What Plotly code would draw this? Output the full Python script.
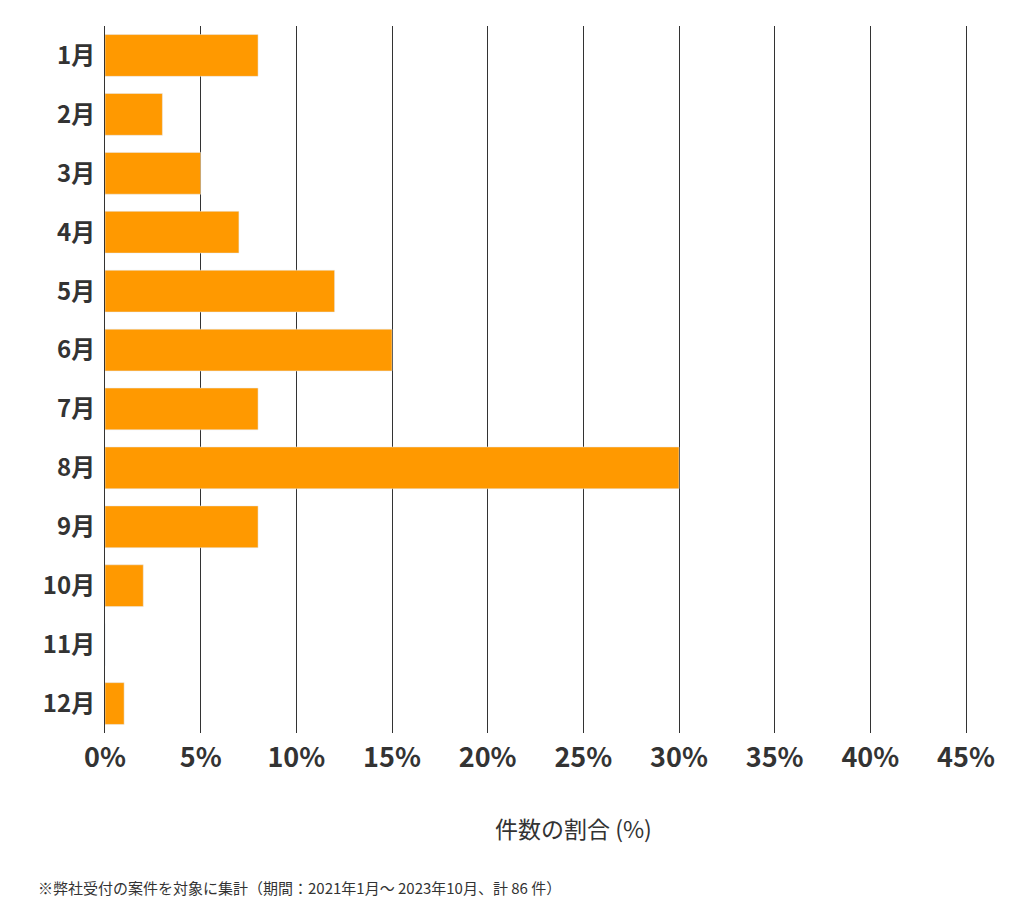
import plotly.graph_objects as go

months = ["1月","2月","3月","4月","5月","6月","7月","8月","9月","10月","11月","12月"]
shares = [8.0, 3.0, 5.0, 7.0, 12.0, 15.0, 8.0, 30.0, 8.0, 2.0, 0.0, 1.0]
x_ticks = [0,5,10,15,20,25,30,35,40,45]

FONT = "Noto Sans CJK JP"
W, H = 1024-97-66, 905-18-180
fig = go.Figure(go.Bar(x=shares, y=months, orientation="h", marker_color="#FF9900", width=0.71))
fig.update_layout(
    width=1024, height=905, margin=dict(l=97, r=66, t=18, b=180, autoexpand=False),
    plot_bgcolor="white", paper_bgcolor="white", showlegend=False,
    font=dict(family=FONT, color="#333"),
    xaxis=dict(range=[0,45], tickvals=x_ticks, ticktext=[f"{v}%" for v in x_ticks],
               showgrid=True, gridcolor="#333", gridwidth=1, zeroline=False, automargin=False,
               tickfont=dict(size=27, family=FONT, weight="bold", color="#333"), ticks="", ticklabelstandoff=6),
    yaxis=dict(autorange="reversed", showgrid=False, zeroline=False, ticks="", automargin=False,
               showline=True, mirror=True, linecolor="#333", linewidth=1,
               tickfont=dict(size=24, family=FONT, weight="bold", color="#333"), ticklabelstandoff=4),
    annotations=[
        dict(text="件数の割合 (%)", x=(565-97)/W, y=(725-820)/H, xref="paper", yref="paper",
             xanchor="center", yanchor="middle", showarrow=False,
             font=dict(size=23, family=FONT, color="#333")),
        dict(text="※弊社受付の案件を対象に集計（期間：2021年1月～ 2023年10月、計 86 件）",
             x=(28-97)/W, y=(725-880)/H, xref="paper", yref="paper",
             xanchor="left", yanchor="middle", showarrow=False,
             font=dict(size=15, family=FONT, color="#333")),
    ],
)
fig.write_html("out.html")
